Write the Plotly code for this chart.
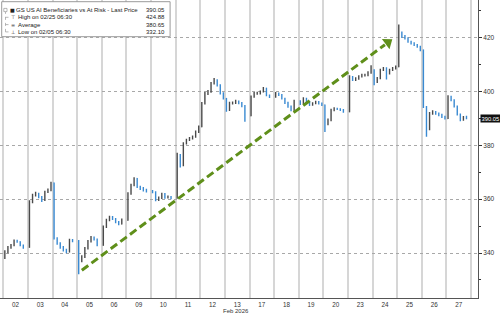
import plotly.graph_objects as go

# ---------------- data ----------------
DAY_LABELS = ['02', '03', '04', '05', '06', '09', '10', '11', '12', '13',
              '17', '18', '19', '20', '23', '24', '25', '26', '27']

OPEN = [
    [338.6, 340.4, 342.1, 342.9, 344.4, 344.2, 342.9],
    [342.1, 359.0, 361.5, 362.1, 360.9, 359.6, 362.7, 363.4],
    [366.0, 345.4, 343.6, 342.1, 341.1, 340.4, 344.8],
    [344.6, 337.3, 338.6, 341.7, 344.2, 345.8, 345.1],
    [342.9, 349.7, 352.2, 353.4, 352.8, 351.5, 350.8],
    [352.2, 362.1, 365.2, 367.7, 364.6, 364.0, 363.4],
    [363.0, 362.7, 359.7, 360.5, 361.9, 360.6, 360.9],
    [360.4, 376.5, 372.5, 380.7, 382.0, 382.6, 383.2, 385.0],
    [386.9, 395.6, 399.3, 399.9, 403.0, 404.3, 402.3, 399.3],
    [397.4, 393.1, 395.8, 395.8, 396.4, 395.8, 394.6],
    [391.0, 398.1, 399.3, 399.3, 399.9, 401.2, 398.6],
    [398.0, 399.3, 398.8, 397.4, 395.8, 394.4, 393.1],
    [396.4, 395.6, 397.4, 396.2, 395.0, 395.6, 396.2, 395.6],
    [395.0, 388.8, 389.4, 393.1, 393.7, 393.5, 393.2],
    [392.5, 405.5, 404.3, 404.8, 405.5, 406.1, 406.1, 407.0],
    [408.0, 403.6, 404.9, 408.0, 408.6, 406.7, 408.0, 408.6],
    [409.2, 421.6, 420.4, 419.8, 418.5, 417.9, 417.3, 416.7],
    [415.4, 394.3, 386.0, 391.9, 392.5, 391.9, 391.3, 390.6],
    [390.0, 398.1, 396.8, 394.5, 391.5, 389.4, 390.6],
]
HIGH = [
    [341.0, 342.6, 343.4, 345.0, 344.9, 344.4, 343.2],
    [359.6, 362.0, 362.8, 362.4, 361.2, 363.1, 364.0, 366.5],
    [366.2, 345.9, 344.0, 342.6, 341.6, 345.3, 345.2],
    [344.8, 339.2, 342.2, 344.8, 346.3, 346.1, 345.4],
    [350.2, 352.7, 353.9, 353.8, 353.0, 351.9, 352.8],
    [362.6, 365.7, 368.2, 367.9, 365.0, 364.5, 363.9],
    [363.4, 363.0, 361.0, 362.4, 362.3, 361.4, 361.2],
    [377.3, 376.8, 381.2, 382.5, 383.1, 383.7, 385.5, 387.4],
    [396.1, 399.8, 400.6, 403.5, 405.0, 404.6, 402.7, 399.7],
    [397.6, 396.2, 396.3, 396.9, 396.7, 396.1, 395.0],
    [398.5, 399.8, 399.9, 400.4, 401.7, 401.4, 398.9],
    [399.8, 399.6, 399.1, 397.7, 396.2, 394.8, 396.9],
    [396.8, 397.9, 397.7, 396.5, 396.0, 396.6, 396.5, 395.9],
    [395.2, 390.0, 393.6, 394.2, 394.0, 393.8, 393.5],
    [406.0, 405.8, 405.3, 406.0, 406.6, 406.6, 407.5, 409.8],
    [408.3, 405.4, 408.5, 409.1, 409.0, 408.5, 409.1, 409.7],
    [424.88, 422.3, 421.0, 420.2, 418.9, 418.3, 417.7, 417.0],
    [415.6, 394.6, 392.4, 393.0, 392.8, 392.2, 391.7, 391.0],
    [398.6, 398.4, 397.1, 394.8, 391.8, 390.9, 391.0],
]
LOW = [
    [337.8, 339.9, 341.6, 342.5, 343.8, 342.5, 341.6],
    [342.0, 358.5, 361.0, 360.4, 359.0, 359.3, 362.3, 363.0],
    [345.0, 343.1, 341.6, 340.6, 339.9, 340.2, 344.0],
    [332.1, 336.6, 338.2, 341.3, 343.9, 344.7, 342.5],
    [342.7, 349.3, 351.8, 352.3, 351.1, 350.3, 350.6],
    [352.0, 361.7, 364.8, 364.2, 363.4, 362.9, 362.5],
    [362.2, 359.2, 359.3, 360.1, 360.2, 360.3, 360.0],
    [360.2, 371.8, 372.2, 380.3, 381.6, 382.2, 382.8, 384.6],
    [386.7, 395.2, 398.7, 399.5, 402.6, 401.9, 398.9, 397.0],
    [392.5, 392.8, 395.2, 395.4, 395.3, 394.2, 388.8],
    [390.8, 397.7, 398.8, 398.9, 399.6, 398.2, 397.6],
    [397.7, 398.3, 397.0, 395.4, 394.0, 392.7, 392.8],
    [395.0, 395.3, 395.8, 394.6, 394.7, 395.3, 395.2, 394.6],
    [385.0, 387.5, 389.0, 392.7, 393.1, 392.8, 392.1],
    [392.3, 403.9, 403.9, 404.4, 405.2, 405.6, 405.7, 406.6],
    [402.3, 403.2, 404.6, 407.6, 404.5, 406.3, 407.6, 408.2],
    [409.0, 419.9, 419.3, 418.1, 417.5, 416.9, 416.3, 415.0],
    [393.9, 383.2, 385.6, 391.4, 391.4, 390.8, 390.2, 389.6],
    [389.8, 396.4, 394.1, 391.1, 389.0, 389.1, 389.7],
]
CLOSE = [
    [340.4, 342.1, 342.9, 344.4, 344.2, 342.9, 342.1],
    [359.0, 361.5, 362.1, 360.9, 359.6, 362.7, 363.4, 366.0],
    [345.4, 343.6, 342.1, 341.1, 340.4, 344.8, 344.6],
    [337.3, 338.6, 341.7, 344.2, 345.8, 345.1, 342.9],
    [349.7, 352.2, 353.4, 352.8, 351.5, 350.8, 352.2],
    [362.1, 365.2, 367.7, 364.6, 364.0, 363.4, 363.0],
    [362.7, 359.7, 360.5, 361.9, 360.6, 360.9, 360.4],
    [376.5, 372.5, 380.7, 382.0, 382.6, 383.2, 385.0, 386.9],
    [395.6, 399.3, 399.9, 403.0, 404.3, 402.3, 399.3, 397.4],
    [393.1, 395.8, 395.8, 396.4, 395.8, 394.6, 391.0],
    [398.1, 399.3, 399.3, 399.9, 401.2, 398.6, 398.0],
    [399.3, 398.8, 397.4, 395.8, 394.4, 393.1, 396.4],
    [395.6, 397.4, 396.2, 395.0, 395.6, 396.2, 395.6, 395.0],
    [388.8, 389.4, 393.1, 393.7, 393.5, 393.2, 392.5],
    [405.5, 404.3, 404.8, 405.5, 406.1, 406.1, 407.0, 408.0],
    [403.6, 404.9, 408.0, 408.6, 406.7, 408.0, 408.6, 409.2],
    [421.6, 420.4, 419.8, 418.5, 417.9, 417.3, 416.7, 415.4],
    [394.3, 386.0, 391.9, 392.5, 391.9, 391.3, 390.6, 390.0],
    [398.1, 396.8, 394.5, 391.5, 389.4, 390.6, 390.05],
]

TITLE = 'GS US AI Beneficiaries vs At Risk - Last Price'
LAST_PRICE = '390.05'
STATS = [('High on 02/25 06:30', '424.88'),
         ('Average', '380.65'),
         ('Low on 02/05 06:30', '332.10')]
Y_TICKS = [340, 360, 380, 400, 420]

# trend-arrow annotation endpoints (day units, price)
ARROW_START = (3.19, 333.6)
ARROW_END = (15.62, 418.2)

# ---------------- build ----------------
SLOTS = 8
xs, o, h, l, c = [], [], [], [], []
for d in range(len(DAY_LABELS)):
    for k in range(len(CLOSE[d])):
        xs.append(d + (k + 0.5) / SLOTS)
        o.append(OPEN[d][k]); h.append(HIGH[d][k])
        l.append(LOW[d][k]); c.append(CLOSE[d][k])

FONT = 'Liberation Sans, Arial, sans-serif'
fig = go.Figure()
fig.add_trace(go.Ohlc(
    x=xs, open=o, high=h, low=l, close=c, tickwidth=0.14,
    increasing=dict(line=dict(color='#4a4a4a', width=1.4)),
    decreasing=dict(line=dict(color='#3a8ad2', width=1.4)),
    showlegend=False, hoverinfo='skip'))

# arrow head
fig.add_trace(go.Scatter(
    x=[ARROW_END[0]], y=[ARROW_END[1]], mode='markers',
    marker=dict(symbol='triangle-up', size=11, color='#5f8f1a', angle=53),
    showlegend=False, hoverinfo='skip'))

PW, PH = 477.7, 298.0
shapes = [
    dict(type='line', xref='x', yref='y', x0=ARROW_START[0], y0=ARROW_START[1],
         x1=ARROW_END[0] - 0.12, y1=ARROW_END[1] - 0.8,
         line=dict(color='#5f8f1a', width=3, dash='8px,4px')),
    # legend box
    dict(type='rect', xref='paper', yref='paper', x0=1.7 / PW, x1=170 / PW,
         y0=1 - 36.7 / PH, y1=1 - 1.7 / PH,
         line=dict(color='#9a9a9a', width=1), fillcolor='white', layer='above'),
]

annotations = []
ly = [10, 17.3, 24.6, 31.9]
labels = [TITLE] + [s[0] for s in STATS]
values = [LAST_PRICE] + [s[1] for s in STATS]
icons = ['■', '⊤', '=', '⊥']
for i in range(4):
    yp = 1 - ly[i] / PH
    annotations.append(dict(xref='paper', yref='paper', x=(13.5 if i == 0 else 15.5) / PW, y=yp,
                            text=labels[i], showarrow=False, xanchor='left', yanchor='middle',
                            font=dict(family=FONT, size=6, color='#222')))
    annotations.append(dict(xref='paper', yref='paper', x=166.7 / PW, y=yp,
                            text=values[i], showarrow=False, xanchor='right', yanchor='middle',
                            font=dict(family=FONT, size=6, color='#222')))
    annotations.append(dict(xref='paper', yref='paper', x=(7.8 if i == 0 else 9.0) / PW, y=yp,
                            text=icons[i], showarrow=False, xanchor='left', yanchor='middle',
                            font=dict(family='DejaVu Sans', size=5, color='#222')))
# tree lines of legend
shapes.append(dict(type='line', xref='paper', yref='paper', x0=5.5 / PW, x1=5.5 / PW,
                   y0=1 - 31.9 / PH, y1=1 - 12 / PH, line=dict(color='#999', width=0.7, dash='dot')))
for i in range(1, 4):
    shapes.append(dict(type='line', xref='paper', yref='paper', x0=5.5 / PW, x1=8.5 / PW,
                       y0=1 - ly[i] / PH, y1=1 - ly[i] / PH,
                       line=dict(color='#999', width=0.7, dash='dot')))
shapes.append(dict(type='rect', xref='paper', yref='paper', x0=3.8 / PW, x1=7.0 / PW,
                   y0=1 - 11.6 / PH, y1=1 - 8.4 / PH, line=dict(color='#888', width=0.6)))

# last price tag
annotations.append(dict(xref='paper', yref='y', x=1, y=float(LAST_PRICE), xshift=1.5,
                        text=LAST_PRICE, showarrow=False, xanchor='left', yanchor='middle',
                        bgcolor='#111', borderpad=0.5,
                        font=dict(family=FONT, size=5.8, color='white')))
# month label
annotations.append(dict(xref='x', yref='paper', x=9.46, y=0, yshift=-7.5,
                        text='Feb 2026', showarrow=False, xanchor='center', yanchor='top',
                        font=dict(family=FONT, size=6, color='#333')))

fig.update_layout(
    width=500, height=314, margin=dict(l=0, r=22.3, t=0, b=16),
    paper_bgcolor='white', plot_bgcolor='white',
    shapes=shapes, annotations=annotations,
    xaxis=dict(range=[-0.134, 19.28], rangeslider=dict(visible=False),
               tickmode='array', tickvals=[i + 0.5 for i in range(len(DAY_LABELS))],
               ticktext=DAY_LABELS, showgrid=False, zeroline=False,
               ticks='', ticklabelstandoff=0,
               tickfont=dict(family=FONT, size=6.3, color='#333'),
               showline=True, linecolor='#555', linewidth=1,
               minor=dict(tickmode='array', tickvals=list(range(len(DAY_LABELS) + 1)),
                          showgrid=True, gridcolor='#d6d6d6', gridwidth=1.5, ticks='')),
    yaxis=dict(side='right', range=[323.3, 434.0], tickmode='array', tickvals=Y_TICKS,
               ticks='outside', ticklen=3, tickcolor='#333',
               showgrid=True, gridcolor='#a8a8a8', griddash='dot', gridwidth=1,
               zeroline=False, showline=True, linecolor='#555', linewidth=1,
               tickfont=dict(family=FONT, size=6.5, color='#333'),
               minor=dict(dtick=10, tick0=0, ticks='outside', ticklen=2, tickcolor='#333',
                          showgrid=False)),
)

fig.write_html('out.html')
